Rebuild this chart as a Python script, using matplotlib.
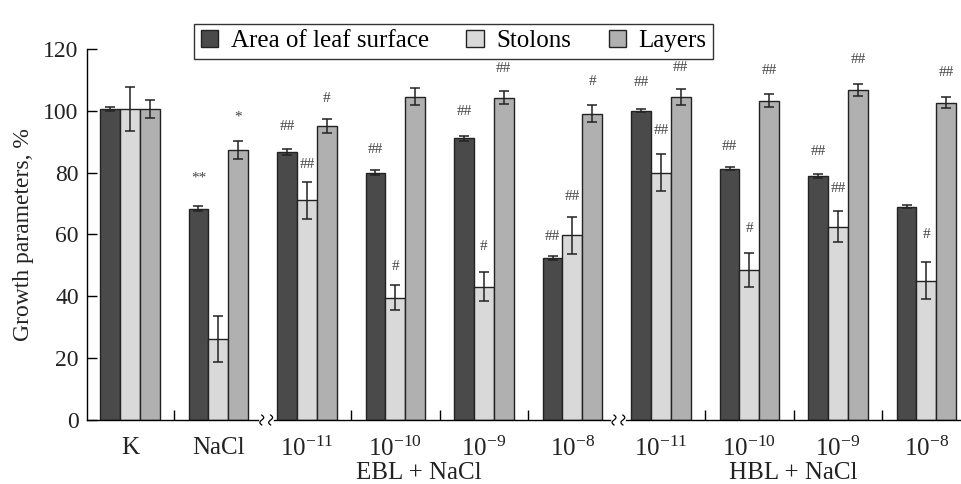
import numpy as np
import matplotlib.pyplot as plt
from matplotlib.patches import Patch

plt.rcParams['font.family'] = ['Liberation Serif', 'DejaVu Sans']
plt.rcParams['mathtext.fontset'] = 'custom'
plt.rcParams['mathtext.rm'] = 'Liberation Serif'

# data
tick_labels = ['K', 'NaCl', r'$\mathregular{10^{-11}}$', r'$\mathregular{10^{-10}}$',
               r'$\mathregular{10^{-9}}$', r'$\mathregular{10^{-8}}$',
               r'$\mathregular{10^{-11}}$', r'$\mathregular{10^{-10}}$',
               r'$\mathregular{10^{-9}}$', r'$\mathregular{10^{-8}}$']
series_names = ['Area of leaf surface', 'Stolons', 'Layers']
leaf = [100.6, 68.3, 86.7, 79.9, 91.2, 52.5, 100.1, 81.3, 79.0, 69.0]
leaf_err = [0.5, 0.8, 1.0, 0.8, 0.8, 0.7, 0.6, 0.6, 0.6, 0.4]
stolons = [100.6, 26.2, 71.0, 39.6, 43.1, 59.8, 80.0, 48.5, 62.5, 45.1]
stolons_err = [7.0, 7.3, 6.0, 4.0, 4.7, 6.0, 6.0, 5.6, 5.0, 6.0]
layers = [100.6, 87.3, 95.1, 104.6, 104.3, 99.1, 104.5, 103.3, 106.8, 102.6]
layers_err = [3.0, 2.8, 2.3, 2.7, 2.2, 2.8, 2.6, 2.0, 2.0, 1.8]

# significance marks: group, series (0 leaf, 1 stolons, 2 layers), text, height
mark_group = [1, 1, 2, 2, 2, 3, 3, 4, 4, 4, 5, 5, 5, 6, 6, 6, 7, 7, 7, 8, 8, 8, 9, 9]
mark_series = [0, 2, 0, 1, 2, 0, 1, 0, 1, 2, 0, 1, 2, 0, 1, 2, 0, 1, 2, 0, 1, 2, 1, 2]
mark_text = ['**', '*', '##', '##', '#', '##', '#', '##', '#', '##', '##', '##', '#',
             '##', '##', '##', '##', '#', '##', '##', '##', '##', '#', '##']
mark_y = [78.3, 98.1, 94.8, 82.5, 103.9, 87.4, 49.8, 99.7, 56.0, 113.6, 59.2, 72.2, 109.4,
          109.1, 93.5, 113.9, 88.3, 62.1, 112.9, 86.7, 74.8, 116.5, 59.9, 112.3]

groups = ['EBL + NaCl', 'HBL + NaCl']
group_x = [3.27, 7.5]
breaks = [1.54, 5.52]

colors = ['#4a4a4a', '#d9d9d9', '#b0b0b0']
w = 0.225
x = np.arange(len(tick_labels))

fig = plt.figure(figsize=(9.62, 4.84), dpi=100)
ax = fig.add_axes([0.0904, 0.1322, 0.9076, 0.7666])

vals = [leaf, stolons, layers]
errs = [leaf_err, stolons_err, layers_err]
for i in range(3):
    ax.bar(x + (i - 1) * w, vals[i], w, yerr=errs[i], color=colors[i],
           edgecolor='#222222', linewidth=1.0, capsize=3.5,
           error_kw={'elinewidth': 1.1, 'capthick': 1.1, 'ecolor': '#222222'})

for g, s, t, yy in zip(mark_group, mark_series, mark_text, mark_y):
    ax.text(g + (s - 1) * w, yy, t, ha='center', va='center', fontsize=11, color='#444444')

ax.set_xlim(-0.485, 9.38)
ax.set_ylim(0, 120)
ax.set_yticks(range(0, 121, 20))
ax.tick_params(axis='y', direction='in', length=7, width=1, labelsize=17, pad=6,
               labelcolor='#222222')
ax.set_xticks(x)
ax.set_xticklabels(tick_labels)
ax.tick_params(axis='x', which='major', length=0, labelsize=18, pad=12, labelcolor='#222222')
ax.set_xticks([0.5, 2.5, 3.5, 4.5, 6.5, 7.5, 8.5], minor=True)
ax.tick_params(axis='x', which='minor', direction='in', length=7, width=1)
ax.set_ylabel('Growth parameters, %', fontsize=17, labelpad=7, color='#222222')

for side in ['top', 'right', 'bottom']:
    ax.spines[side].set_visible(False)
ax.spines['left'].set_linewidth(1)

# x axis with breaks
gap = 0.09
segs = [(-0.485, breaks[0] - gap), (breaks[0] + gap, breaks[1] - gap), (breaks[1] + gap, 9.38)]
for a, b in segs:
    ax.plot([a, b], [0, 0], color='black', lw=1, clip_on=False)
t = np.linspace(-1, 1, 30)
for bx in breaks:
    for dx in (-0.05, 0.05):
        ax.plot(bx + dx + 0.022 * np.sin(t * np.pi), t * 1.6, color='black', lw=0.9,
                clip_on=False)

for gname, gx in zip(groups, group_x):
    ax.text(gx, -0.112, gname, transform=ax.get_xaxis_transform(), ha='center',
            va='top', fontsize=18, color='#222222')

handles = [Patch(facecolor=c, edgecolor='#222222', linewidth=1) for c in colors]
leg = fig.legend(handles, series_names, loc='upper center', bbox_to_anchor=(0.4715, 0.977),
                 ncol=3, fontsize=18, frameon=True, fancybox=False, edgecolor='black',
                 handlelength=0.7, handleheight=0.7, handletextpad=0.5, columnspacing=1.5,
                 borderpad=0.25)
leg.get_frame().set_linewidth(1)

fig.savefig('out.png', dpi=100)
